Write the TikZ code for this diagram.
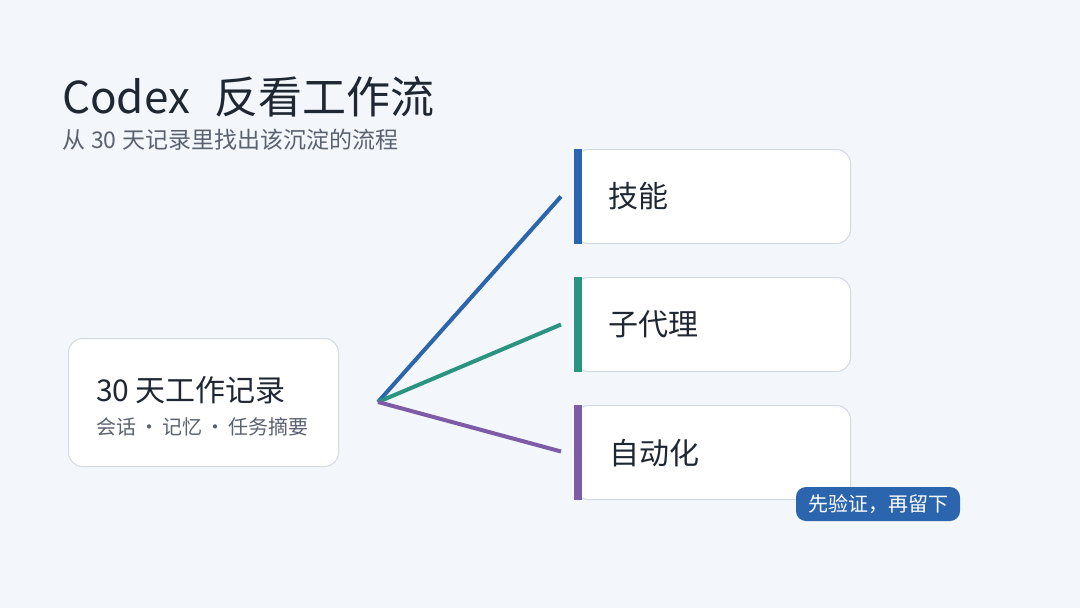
\documentclass[tikz,border=0pt]{standalone}
\usepackage{fontspec}
\setmainfont{Noto Sans CJK SC}
\definecolor{bgcol}{HTML}{F3F7FB}
\definecolor{ink}{HTML}{1F2733}
\definecolor{subink}{HTML}{5A6270}
\definecolor{edge}{HTML}{D3DAE2}
\definecolor{skillcol}{HTML}{2B65AD}
\definecolor{agentcol}{HTML}{2A9480}
\definecolor{autocol}{HTML}{7D5BA6}
\tikzset{
  card/.style={draw=edge, line width=1pt, fill=white, rounded corners=14pt, inner sep=0pt, anchor=north west},
  cardtext/.style={anchor=west, inner sep=0pt, text=ink, font=\fontsize{30}{34}\selectfont},
  branch/.style={line width=4pt},
}
\begin{document}
\begin{tikzpicture}[x=1pt,y=-1pt]
\fill[bgcol] (0,0) rectangle (1080,608);
\useasboundingbox (0,0) rectangle (1080,608);
% title
\node[anchor=west, inner sep=0pt, text=ink, font=\fontsize{44}{50}\selectfont] (title) at (62,97) {Codex\kern24pt 反看工作流};
\node[anchor=west, inner sep=0pt, text=subink, font=\fontsize{23}{28}\selectfont] (subtitle) at (62,140) {从\kern6pt 30\kern6pt 天记录里找出该沉淀的流程};
% source
\node[card, minimum width=270pt, minimum height=128pt] (log) at (68,338) {};
\node[cardtext] (logtitle) at (96,390) {30\kern6pt 天工作记录};
\node[anchor=west, inner sep=0pt, text=subink, font=\fontsize{20}{24}\selectfont] (logsub) at (96,427) {会话\kern3pt·\kern3pt记忆\kern3pt·\kern3pt任务摘要};
\coordinate (hub) at (378,402);
% targets
\node[card, minimum width=276pt, minimum height=94pt] (skill) at (574,149) {};
\node[card, minimum width=276pt, minimum height=94pt] (agent) at (574,277) {};
\node[card, minimum width=276pt, minimum height=94pt] (auto) at (574,405) {};
\fill[skillcol] (skill.north west) rectangle ([xshift=8pt]skill.south west);
\fill[agentcol] (agent.north west) rectangle ([xshift=8pt]agent.south west);
\fill[autocol] (auto.north west) rectangle ([xshift=8pt]auto.south west);
\node[cardtext] (skilltext) at (608,196) {技能};
\node[cardtext] (agenttext) at (608,324) {子代理};
\node[cardtext] (autotext) at (609,453) {自动化};
% branches
\draw[branch, skillcol] (hub) -- ([xshift=-13pt]skill.west);
\draw[branch, agentcol] (hub) -- ([xshift=-13pt]agent.west);
\draw[branch, autocol] (hub) -- ([xshift=-13pt, yshift=1pt]auto.west);
% badge
\node[fill=skillcol, rounded corners=10pt, text=white, minimum width=164pt, minimum height=34pt, inner sep=0pt, font=\fontsize{20}{23}\selectfont] (badge) at (878,504) {先验证，再留下};
\end{tikzpicture}
\end{document}
